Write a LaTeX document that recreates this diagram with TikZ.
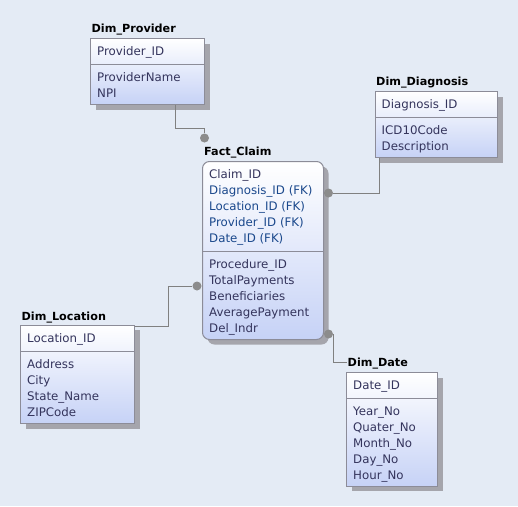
\documentclass[tikz,border=0pt]{standalone}
\usepackage{fontspec}
\setmainfont{DejaVu Sans}
\usetikzlibrary{shadows}
\definecolor{canvasbg}{RGB}{228,235,245}
\definecolor{boxline}{RGB}{140,140,152}
\definecolor{boxfoot}{RGB}{198,210,246}
\definecolor{shadowgray}{RGB}{165,165,172}
\definecolor{fieldtext}{RGB}{52,52,92}
\definecolor{fktext}{RGB}{26,72,140}
\definecolor{linkgray}{RGB}{128,128,128}
\definecolor{dotgray}{RGB}{140,140,140}
\tikzset{dimbox/.style={draw=boxline, line width=1pt, top color=white, bottom color=boxfoot,
    anchor=north west, inner sep=0pt, outer sep=0pt,
    drop shadow={shadow xshift=5pt, shadow yshift=-5pt, fill=shadowgray, opacity=1}}}
\tikzset{factbox/.style={dimbox, rounded corners=7pt}}
\tikzset{tabletitle/.style={anchor=base west, inner sep=0pt, font=\fontsize{11.2}{13}\selectfont\bfseries}}
\tikzset{field/.style={anchor=base west, inner sep=0pt, text=fieldtext, font=\fontsize{11.8}{16}\selectfont}}
\tikzset{fkfield/.style={field, text=fktext}}
\tikzset{divider/.style={draw=boxline, line width=1pt}}
\tikzset{link/.style={draw=linkgray, line width=1pt}}
\tikzset{keydot/.style={circle, fill=dotgray, minimum size=9pt, inner sep=0pt}}

\begin{document}
\begin{tikzpicture}[x=1pt, y=-1pt]
    \fill[canvasbg] (0,0) rectangle (518,506);
    \useasboundingbox (0,0) rectangle (518,506);

    % Dim_Provider
    \node(prov)[dimbox, minimum width=114pt, minimum height=66pt] at (90.5,38.5) {};
    \node(provt)[tabletitle] at ([xshift=1pt,yshift=6pt]prov.north west) {Dim\_Provider};
    \node(provkey)[field] at ([xshift=6.5pt,yshift=-17pt]prov.north west) {Provider\_ID};
    \draw[divider] ([yshift=-26pt]prov.north west) -- ([yshift=-26pt]prov.north east);
    \foreach \f [count=\i from 0] in {ProviderName,NPI}
        \node(provf\i)[field] at ([xshift=6.5pt,yshift={-43pt-\i*16pt}]prov.north west) {\f};

    % Dim_Diagnosis
    \node(diag)[dimbox, minimum width=122.5pt, minimum height=66pt] at (375,91.5) {};
    \node(diagt)[tabletitle] at ([xshift=1pt,yshift=6pt]diag.north west) {Dim\_Diagnosis};
    \node(diagkey)[field] at ([xshift=6.5pt,yshift=-17pt]diag.north west) {Diagnosis\_ID};
    \draw[divider] ([yshift=-26pt]diag.north west) -- ([yshift=-26pt]diag.north east);
    \foreach \f [count=\i from 0] in {ICD10Code,Description}
        \node(diagf\i)[field] at ([xshift=6.5pt,yshift={-43pt-\i*16pt}]diag.north west) {\f};

    % Fact_Claim
    \node(fact)[factbox, minimum width=121pt, minimum height=178pt] at (202.5,161.5) {};
    \node(factt)[tabletitle] at ([xshift=1.5pt,yshift=6pt]fact.north west) {Fact\_Claim};
    \node(factkey)[field] at ([xshift=6.5pt,yshift=-17pt]fact.north west) {Claim\_ID};
    \foreach \f [count=\i from 0] in {Diagnosis\_ID (FK),Location\_ID (FK),Provider\_ID (FK),Date\_ID (FK)}
        \node(factfk\i)[fkfield] at ([xshift=6.5pt,yshift={-33pt-\i*16pt}]fact.north west) {\f};
    \draw[divider] ([yshift=-89.5pt]fact.north west) -- ([yshift=-89.5pt]fact.north east);
    \foreach \f [count=\i from 0] in {Procedure\_ID,TotalPayments,Beneficiaries,AveragePayment,Del\_Indr}
        \node(factf\i)[field] at ([xshift=6.5pt,yshift={-107pt-\i*16pt}]fact.north west) {\f};

    % Dim_Location
    \node(loc)[dimbox, minimum width=114pt, minimum height=98.5pt] at (20.5,325) {};
    \node(loct)[tabletitle] at ([xshift=1pt,yshift=5pt]loc.north west) {Dim\_Location};
    \node(lockey)[field] at ([xshift=6.5pt,yshift=-17pt]loc.north west) {Location\_ID};
    \draw[divider] ([yshift=-26pt]loc.north west) -- ([yshift=-26pt]loc.north east);
    \foreach \f [count=\i from 0] in {Address,City,State\_Name,ZIPCode}
        \node(locf\i)[field] at ([xshift=6.5pt,yshift={-43pt-\i*16pt}]loc.north west) {\f};

    % Dim_Date
    \node(date)[dimbox, minimum width=91pt, minimum height=113.5pt] at (346.5,372.5) {};
    \node(datet)[tabletitle] at ([xshift=1pt,yshift=6pt]date.north west) {Dim\_Date};
    \node(datekey)[field] at ([xshift=6.5pt,yshift=-17pt]date.north west) {Date\_ID};
    \draw[divider] ([yshift=-26pt]date.north west) -- ([yshift=-26pt]date.north east);
    \foreach \f [count=\i from 0] in {Year\_No,Quater\_No,Month\_No,Day\_No,Hour\_No}
        \node(datef\i)[field] at ([xshift=6.5pt,yshift={-43pt-\i*16pt}]date.north west) {\f};

    % key dots on Fact_Claim
    \node(provdot)[keydot] at (204.5,138) {};
    \node(diagdot)[keydot] at (328.5,193) {};
    \node(locdot)[keydot]  at (197,286) {};
    \node(datedot)[keydot] at (328.5,334) {};

    \draw[link] ([xshift=84.5pt]prov.south west) -- ++(0,23.5) -| (provdot);
    \draw[link] ([xshift=4pt]diag.south west) |- (diagdot);
    \draw[link] ([yshift=-1pt]loc.north east) -- ++(33.5,0) |- (locdot);
    \draw[link] ([xshift=5pt]datedot.center) |- ([yshift=10.5pt]date.north west);
\end{tikzpicture}
\end{document}
